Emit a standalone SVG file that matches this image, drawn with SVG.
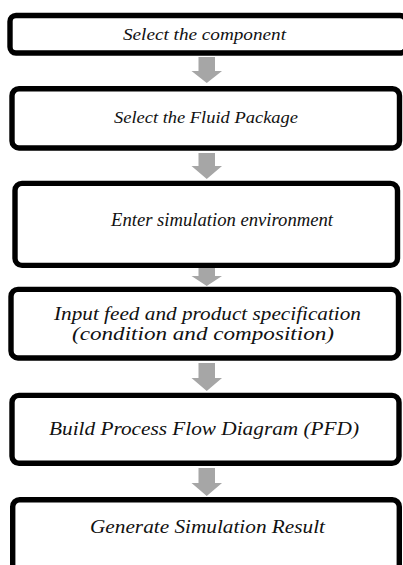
<svg xmlns="http://www.w3.org/2000/svg" width="403" height="565" viewBox="0 0 403 565">
  <style>
    .box { fill: #ffffff; stroke: #000000; stroke-width: 5.4; }
    .arrow { fill: #a6a6a6; stroke: none; }
    text { font-family: 'Liberation Serif', 'DejaVu Serif', serif; font-style: italic; fill: #111111; text-anchor: middle; }
    .small { font-size: 16px; }
    .large { font-size: 19px; }
  </style>
  <rect width="403" height="565" fill="#ffffff"/>

  <!-- gray block arrows between steps -->
  <g id="connectors">
    <polygon class="arrow" points="198.5,57 215,57 215,71 222,71 206.75,83 191.5,71 198.5,71"/>
    <polygon class="arrow" points="198.5,153 215,153 215,166 222,166 206.75,179 191.5,166 198.5,166"/>
    <polygon class="arrow" points="198.5,268 215,268 215,276 222,276 206.75,286 191.5,276 198.5,276"/>
    <polygon class="arrow" points="198.5,363 215,363 215,378 222,378 206.75,391 191.5,378 198.5,378"/>
    <polygon class="arrow" points="198.5,468 215,468 215,483 222,483 206.75,496 191.5,483 198.5,483"/>
  </g>

  <g id="step1">
    <rect class="box" x="10" y="15.5" width="396" height="37.5" rx="6"/>
    <text class="small" x="204.5" y="39.5" textLength="163" lengthAdjust="spacingAndGlyphs" font-family="Liberation Serif" font-style="italic">Select the component</text>
  </g>

  <g id="step2">
    <rect class="box" x="12" y="88.7" width="387.5" height="59.3" rx="7"/>
    <text class="small" x="206" y="123" textLength="184" lengthAdjust="spacingAndGlyphs" font-family="Liberation Serif" font-style="italic">Select the Fluid Package</text>
  </g>

  <g id="step3">
    <rect class="box" x="15" y="183.4" width="382.5" height="82" rx="7"/>
    <text class="large" x="222" y="226" textLength="222" lengthAdjust="spacingAndGlyphs" font-family="Liberation Serif" font-style="italic">Enter simulation environment</text>
  </g>

  <g id="step4">
    <rect class="box" x="11" y="289.4" width="387.5" height="68.6" rx="7"/>
    <text class="large" x="207.5" y="320" textLength="307" lengthAdjust="spacingAndGlyphs" font-family="Liberation Serif" font-style="italic">Input feed and product specification</text>
    <text class="large" x="203" y="340" textLength="262" lengthAdjust="spacingAndGlyphs" font-family="Liberation Serif" font-style="italic">(condition and composition)</text>
  </g>

  <g id="step5">
    <rect class="box" x="12" y="395.4" width="387" height="67.9" rx="7"/>
    <text class="large" x="204" y="435" textLength="310" lengthAdjust="spacingAndGlyphs" font-family="Liberation Serif" font-style="italic">Build Process Flow Diagram (PFD)</text>
  </g>

  <g id="step6">
    <rect class="box" x="12.7" y="499.7" width="386.6" height="75" rx="7"/>
    <text class="large" x="207.5" y="533" textLength="235" lengthAdjust="spacingAndGlyphs" font-family="Liberation Serif" font-style="italic">Generate Simulation Result</text>
  </g>
</svg>
